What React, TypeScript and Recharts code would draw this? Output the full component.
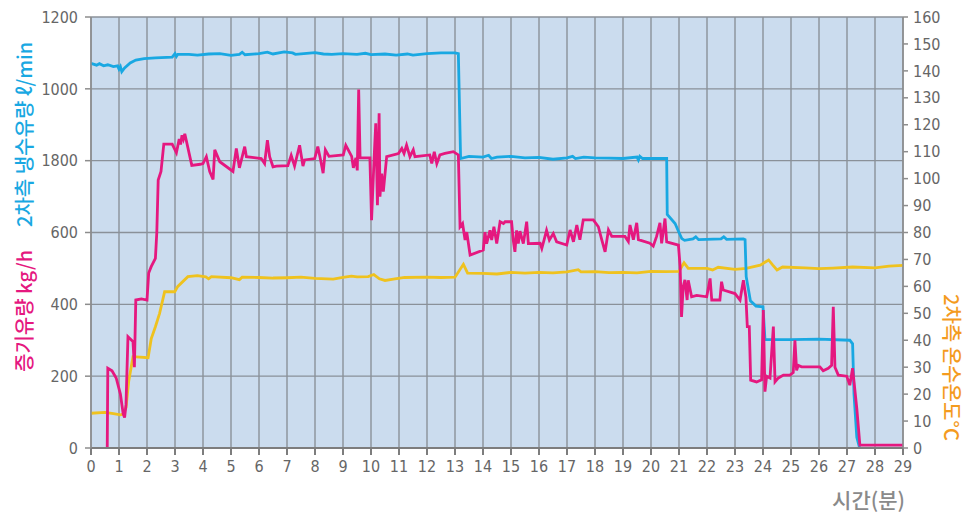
import React from "react";
import { ComposedChart, Line, XAxis, YAxis, CartesianGrid } from "recharts";

// minutes, value pairs
const coolingFlow: [number, number][] = [
  [0, 1071], [0.2, 1066], [0.3, 1070], [0.45, 1064], [0.6, 1067], [0.8, 1062], [0.95, 1064], [1.0, 1055],
  [1.05, 1062], [1.1, 1048], [1.2, 1058], [1.4, 1072], [1.6, 1080], [1.9, 1084], [2.3, 1086], [2.9, 1088],
  [3.0, 1098], [3.05, 1090], [3.1, 1096], [3.5, 1096], [3.8, 1094], [4.2, 1097], [4.6, 1098], [5.0, 1093],
  [5.3, 1096], [5.4, 1102], [5.5, 1095], [6.0, 1098], [6.3, 1102], [6.5, 1097], [6.9, 1103], [7.2, 1100],
  [7.3, 1096], [7.6, 1098], [8.0, 1101], [8.3, 1097], [8.6, 1096], [9.0, 1098], [9.5, 1096], [9.8, 1099],
  [10.0, 1095], [10.5, 1097], [10.9, 1094], [11.3, 1097], [11.5, 1094], [12.0, 1098], [12.5, 1100], [13.0, 1100],
  [13.12, 1098], [13.2, 806], [13.5, 812], [14.0, 810], [14.2, 815], [14.3, 806], [14.5, 810], [15.0, 812],
  [15.5, 808], [16.0, 809], [16.5, 804], [17.0, 808], [17.2, 812], [17.3, 806], [17.6, 810], [18.0, 808],
  [18.5, 807], [19.0, 806], [19.5, 810], [19.55, 802], [19.6, 812], [19.7, 806], [20.0, 806], [20.56, 806],
  [20.58, 650], [20.86, 625], [21.0, 600], [21.1, 583], [21.2, 578], [21.5, 582], [21.6, 588], [21.7, 580],
  [22.5, 582], [22.6, 588], [22.7, 581], [23.3, 582], [23.36, 580], [23.4, 477], [23.55, 410], [23.75, 395],
  [24.0, 393], [24.07, 302], [25.0, 302], [26.0, 303], [27.1, 300], [27.2, 290], [27.25, 150], [27.35, 30],
  [27.45, 0],
];

const steamFlow: [number, number][] = [
  [0.58, 0], [0.6, 222], [0.75, 215], [0.9, 195], [1.05, 150], [1.15, 95], [1.2, 85], [1.25, 120],
  [1.32, 310], [1.45, 300], [1.5, 296], [1.55, 225], [1.6, 412], [1.8, 415], [2.0, 412], [2.06, 487],
  [2.15, 505], [2.3, 528], [2.35, 600], [2.4, 746], [2.5, 770], [2.6, 846], [2.9, 846], [3.05, 822],
  [3.15, 860], [3.2, 845], [3.25, 871], [3.3, 860], [3.35, 875], [3.6, 787], [3.9, 790], [4.0, 792],
  [4.12, 811], [4.24, 770], [4.36, 748], [4.42, 830], [4.6, 797], [5.07, 770], [5.19, 834], [5.3, 780],
  [5.49, 839], [5.55, 811], [6.08, 806], [6.2, 792], [6.3, 857], [6.38, 811], [6.5, 783], [6.62, 785],
  [7.03, 786], [7.15, 815], [7.27, 785], [7.45, 843], [7.57, 785], [7.63, 802], [7.99, 806], [8.1, 839],
  [8.2, 802], [8.29, 765], [8.37, 830], [8.5, 812], [9.01, 816], [9.1, 843], [9.31, 812], [9.37, 780],
  [9.46, 808], [9.51, 773], [9.56, 998], [9.61, 808], [9.96, 808], [10.02, 634], [10.11, 805], [10.17, 904],
  [10.23, 676], [10.29, 932], [10.32, 700], [10.38, 764], [10.44, 714], [10.56, 811], [10.98, 820], [11.1, 834],
  [11.18, 820], [11.27, 843], [11.39, 811], [11.51, 830], [11.57, 811], [12.1, 816], [12.17, 792], [12.26, 825],
  [12.35, 792], [12.46, 816], [12.64, 820], [12.94, 825], [13.12, 816], [13.18, 616], [13.27, 625], [13.36, 579],
  [13.42, 601], [13.54, 537], [14.01, 551], [14.07, 601], [14.13, 569], [14.25, 606], [14.31, 579], [14.39, 616],
  [14.49, 569], [14.61, 630], [14.73, 625], [14.79, 630], [15.02, 630], [15.08, 579], [15.14, 546], [15.2, 606],
  [15.26, 569], [15.32, 604], [15.44, 569], [15.56, 630], [15.62, 569], [16.04, 570], [16.1, 556], [16.18, 579],
  [16.27, 606], [16.37, 579], [16.51, 597], [16.63, 574], [16.99, 565], [17.11, 607], [17.23, 574], [17.35, 621],
  [17.46, 580], [17.58, 635], [17.94, 635], [18.12, 616], [18.24, 580], [18.36, 546], [18.48, 607], [18.6, 589],
  [19.07, 589], [19.19, 575], [19.25, 621], [19.37, 580], [19.49, 627], [19.55, 580], [19.96, 570], [20.08, 562],
  [20.2, 589], [20.32, 627], [20.38, 570], [20.5, 639], [20.56, 574], [20.98, 565], [21.04, 505], [21.09, 365],
  [21.15, 449], [21.21, 468], [21.29, 412], [21.33, 467], [21.45, 421], [21.63, 425], [21.99, 421], [22.11, 472],
  [22.17, 412], [22.46, 412], [22.52, 463], [22.58, 440], [23.0, 430], [23.18, 412], [23.3, 467], [23.39, 420],
  [23.44, 338], [23.51, 338], [23.56, 189], [23.77, 184], [23.95, 190], [24.01, 384], [24.07, 157], [24.13, 200],
  [24.25, 195], [24.37, 338], [24.43, 184], [24.55, 195], [24.73, 203], [24.96, 203], [25.08, 210], [25.14, 300],
  [25.2, 216], [25.26, 230], [25.38, 226], [26.03, 226], [26.15, 215], [26.33, 222], [26.45, 230], [26.51, 393],
  [26.57, 225], [26.69, 203], [26.99, 200], [27.1, 175], [27.2, 222], [27.35, 110], [27.46, 8], [29, 8],
];

const waterTemp: [number, number][] = [
  [0, 12.9], [0.5, 13.2], [0.8, 12.8], [1.05, 12.3], [1.15, 12.6], [1.25, 15], [1.35, 25], [1.5, 33.9],
  [2.04, 33.5], [2.15, 40.5], [2.3, 45], [2.45, 50], [2.63, 58], [2.99, 58], [3.1, 60], [3.46, 63.6],
  [3.8, 64], [4.1, 63.5], [4.2, 62.8], [4.3, 63.6], [5.0, 63.2], [5.3, 62.5], [5.4, 63.4], [6.0, 63.3],
  [6.5, 63.1], [7.0, 63.2], [7.5, 63.4], [8.0, 63], [8.65, 62.7], [9.0, 63.3], [9.3, 63.8], [9.5, 63.5],
  [9.9, 63.6], [10.1, 64.4], [10.3, 62.8], [10.5, 62.2], [10.8, 62.7], [11.2, 63.3], [12.0, 63.4], [12.5, 63.3],
  [13.0, 63.4], [13.3, 68.2], [13.45, 64.9], [14.0, 64.8], [14.5, 64.6], [15.0, 65.2], [15.5, 64.9], [16.0, 65.2],
  [16.5, 65.0], [17.0, 65.4], [17.4, 66.2], [17.5, 65.4], [18.0, 65.5], [18.5, 65.1], [19.0, 65.2], [19.5, 65.0],
  [20.0, 65.6], [20.5, 65.5], [21.0, 65.6], [21.18, 68.8], [21.33, 66.7], [22.0, 66.7], [22.2, 66.1], [22.4, 67.1],
  [23.0, 66.3], [23.4, 66.7], [23.9, 67.9], [24.2, 69.8], [24.35, 67.9], [24.5, 66.1], [24.7, 67.2], [25.5, 66.9],
  [26.0, 66.6], [26.5, 66.8], [27.2, 67.2], [28.0, 66.9], [28.5, 67.5], [29, 67.8],
];

const minuteTicks = Array.from({ length: 30 }, (_, i) => i);
const leftTicks = [0, 200, 400, 600, 800, 1000, 1200];
const leftTickLabels = ["0", "200", "400", "600", "1800", "1000", "1200"];
const rightTicks = Array.from({ length: 17 }, (_, i) => i * 10);

const toRows = (pairs: [number, number][]) => pairs.map(([t, v]) => ({ t, v }));

const CYAN = "#19a8e2";
const MAGENTA = "#e5187f";
const YELLOW = "#efc21e";
const ORANGE = "#f49b1e";
const GRID = "#8a9199";
const tickStyle = { fill: "#666666", fontSize: 16, fontFamily: "'Liberation Sans Narrow', 'DejaVu Sans Condensed', sans-serif" };
const krFont = "'Noto Sans CJK KR', 'Noto Sans', sans-serif";

export default function App() {
  return (
    <div style={{ position: "absolute", left: 0, top: 0, width: 977, height: 515, background: "#fff" }}>
      <ComposedChart width={977} height={515} margin={{ top: 17, right: 0, bottom: 37, left: 0 }}>
        <CartesianGrid
          yAxisId="left"
          xAxisId="x"
          fill="#cbdcee"
          stroke={GRID}
          strokeWidth={1.4}
          verticalValues={minuteTicks}
          horizontalValues={leftTicks}
        />
        <XAxis
          xAxisId="x"
          type="number"
          dataKey="t"
          domain={[0, 29]}
          ticks={minuteTicks}
          interval={0}
          allowDuplicatedCategory={false}
          height={30}
          tickSize={7}
          tickMargin={6}
          stroke="#7d7d7d"
          strokeWidth={2}
          tick={tickStyle}
        />
        <YAxis
          yAxisId="left"
          orientation="left"
          type="number"
          domain={[0, 1200]}
          ticks={leftTicks}
          interval={0}
          width={91}
          tickSize={6}
          tickMargin={7}
          stroke="#8d8d8d"
          strokeWidth={1.5}
          tick={tickStyle}
          tickFormatter={(v: number) => leftTickLabels[leftTicks.indexOf(v)] ?? String(v)}
        />
        <YAxis
          yAxisId="right"
          orientation="right"
          type="number"
          domain={[0, 160]}
          ticks={rightTicks}
          interval={0}
          width={74}
          tickSize={5}
          tickMargin={5}
          stroke="#8d8d8d"
          strokeWidth={1.5}
          tick={tickStyle}
        />
        <Line
          xAxisId="x"
          yAxisId="right"
          data={toRows(waterTemp)}
          dataKey="v"
          type="linear"
          stroke={YELLOW}
          strokeWidth={2.8}
          dot={false}
          activeDot={false}
          isAnimationActive={false}
        />
        <Line
          xAxisId="x"
          yAxisId="left"
          data={toRows(coolingFlow)}
          dataKey="v"
          type="linear"
          stroke={CYAN}
          strokeWidth={2.8}
          dot={false}
          activeDot={false}
          isAnimationActive={false}
        />
        <Line
          xAxisId="x"
          yAxisId="left"
          data={toRows(steamFlow)}
          dataKey="v"
          type="linear"
          stroke={MAGENTA}
          strokeWidth={2.8}
          dot={false}
          activeDot={false}
          isAnimationActive={false}
        />
        <text x={32} y={372} transform="rotate(-90 32 372)" fill={MAGENTA} fontSize={20} fontWeight={500} fontFamily={krFont}>
          증기유량 kg/h
        </text>
        <text x={32} y={227} transform="rotate(-90 32 227)" fill={CYAN} fontSize={20} fontWeight={500} fontFamily={krFont}>
          2차측 냉수유량 ℓ/min
        </text>
        <text x={944} y={294} transform="rotate(90 944 294)" fill={ORANGE} fontSize={20} fontWeight={500} fontFamily={krFont}>
          2차측 온수온도°C
        </text>
        <text x={905} y={508} textAnchor="end" fill="#8a8a8a" fontSize={21} fontWeight={500} fontFamily={krFont}>
          시간(분)
        </text>
      </ComposedChart>
    </div>
  );
}
